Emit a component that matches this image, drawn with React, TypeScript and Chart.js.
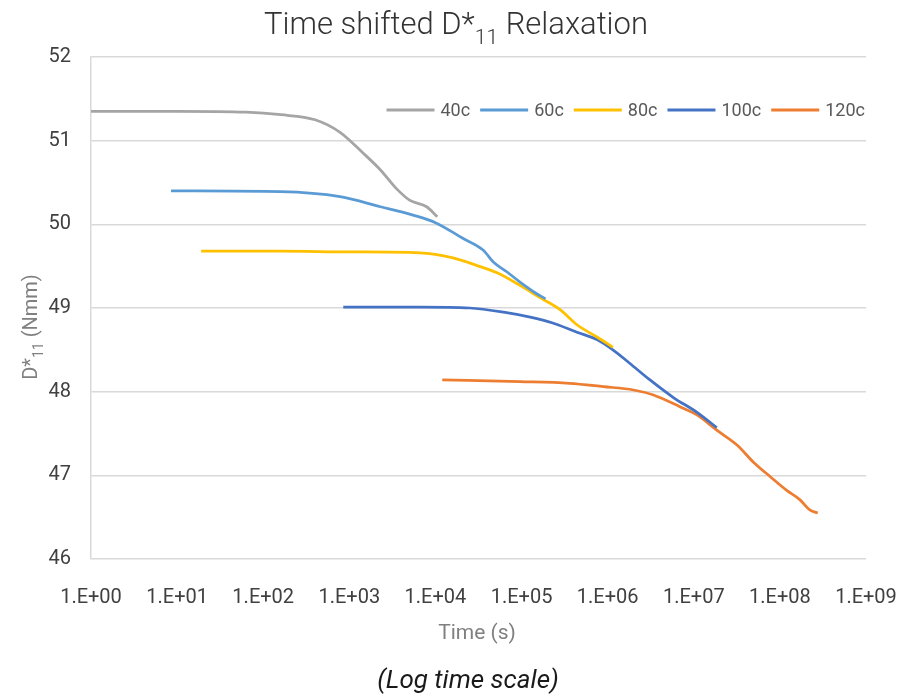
import React, { useEffect, useRef } from "react";
import { Chart, registerables } from "chart.js";

Chart.register(...registerables);

const FONT = "Roboto, 'Liberation Sans', sans-serif";

// Series names and colours
const SERIES_LABELS = ["40c", "60c", "80c", "100c", "120c"];
const SERIES_COLORS = ["#A5A5A5", "#5B9BD5", "#FFC000", "#4472C4", "#ED7D31"];

// Shifted time (s) and D*11 (Nmm) for each temperature
const time40 = [1, 1e1, 6.3e1, 1.6e2, 4e2, 7.8e2, 1.45e3, 2.3e3, 3.5e3, 5e3, 7.9e3, 1.05e4];
const d40 = [51.35, 51.35, 51.34, 51.31, 51.25, 51.1, 50.85, 50.65, 50.43, 50.29, 50.21, 50.09];

const time60 = [8.5, 1.6e2, 7.8e2, 2.3e3, 5.5e3, 1.0e4, 2.1e4, 3.6e4, 4.7e4, 6.8e4, 9.6e4, 1.5e5, 1.9e5];
const d60 = [50.4, 50.39, 50.33, 50.21, 50.11, 50.02, 49.83, 49.69, 49.55, 49.43, 49.31, 49.17, 49.11];

const time80 = [1.9e1, 1.6e2, 1e3, 6.6e3, 1.6e4, 3.0e4, 5.2e4, 9.6e4, 1.6e5, 2.8e5, 4.4e5, 7.6e5, 1.15e6];
const d80 = [49.68, 49.68, 49.67, 49.66, 49.6, 49.51, 49.42, 49.27, 49.13, 48.98, 48.8, 48.65, 48.53];

const time100 = [8.5e2, 6.6e3, 2.5e4, 6.2e4, 1.26e5, 2.3e5, 4.4e5, 7.6e5, 1.15e6, 1.8e6, 3.1e6, 5.8e6, 1.1e7, 1.85e7];
const d100 = [49.01, 49.01, 49.0, 48.95, 48.89, 48.82, 48.71, 48.62, 48.5, 48.34, 48.14, 47.93, 47.75, 47.57];

const time120 = [1.2e4, 9.6e4, 3.6e5, 8.9e5, 2e6, 3.4e6, 6.9e6, 1.1e7, 1.85e7, 3.2e7, 4.9e7, 7.8e7, 1.2e8, 1.7e8, 2.2e8, 2.75e8];
const d120 = [48.14, 48.12, 48.1, 48.06, 48.02, 47.96, 47.82, 47.72, 47.54, 47.36, 47.16, 46.98, 46.82, 46.71, 46.59, 46.55];

const SERIES_TIMES = [time40, time60, time80, time100, time120];
const SERIES_VALUES = [d40, d60, d80, d100, d120];

// Axis ticks
const X_TICKS = [1e0, 1e1, 1e2, 1e3, 1e4, 1e5, 1e6, 1e7, 1e8, 1e9];
const Y_MIN = 46;
const Y_MAX = 52;

const TITLE_MAIN = "Time shifted D*";
const TITLE_SUB = "11";
const TITLE_REST = " Relaxation";
const Y_TITLE_MAIN = "D*";
const Y_TITLE_SUB = "11";
const Y_TITLE_REST = " (Nmm)";
const X_TITLE = "Time (s)";
const NOTE = "(Log time scale)";

function expLabel(v: number): string {
  const e = Math.round(Math.log10(v));
  return "1.E+" + String(e).padStart(2, "0");
}

// Draws text runs with a subscript in the middle, centred on cx
function drawSubText(
  ctx: CanvasRenderingContext2D,
  cx: number,
  baseline: number,
  main: string,
  sub: string,
  rest: string,
  size: number,
  subSize: number,
  subDrop: number,
  weight: string
) {
  ctx.font = `${weight} ${size}px ${FONT}`;
  const w1 = ctx.measureText(main).width;
  const w3 = ctx.measureText(rest).width;
  ctx.font = `${weight} ${subSize}px ${FONT}`;
  const w2 = ctx.measureText(sub).width;
  let x = cx - (w1 + w2 + w3) / 2;
  ctx.textAlign = "left";
  ctx.textBaseline = "alphabetic";
  ctx.font = `${weight} ${size}px ${FONT}`;
  ctx.fillText(main, x, baseline);
  x += w1;
  ctx.font = `${weight} ${subSize}px ${FONT}`;
  ctx.fillText(sub, x, baseline + subDrop);
  x += w2;
  ctx.font = `${weight} ${size}px ${FONT}`;
  ctx.fillText(rest, x, baseline);
}

const decorations = {
  id: "decorations",
  afterDraw(chart: any) {
    const ctx: CanvasRenderingContext2D = chart.ctx;
    const area = chart.chartArea;
    ctx.save();

    // Title
    ctx.fillStyle = "#333333";
    drawSubText(ctx, 456, 34, TITLE_MAIN, TITLE_SUB, TITLE_REST, 31, 21, 10, "300");

    // Legend, right-aligned inside the plot area
    const lineLen = 48;
    const gapLineText = 6;
    const gapItems = 10;
    const legendFont = `normal 18px ${FONT}`;
    ctx.font = legendFont;
    const datasets = chart.data.datasets;
    const widths = datasets.map((d: any) => ctx.measureText(d.label).width);
    let total = 0;
    widths.forEach((w: number, i: number) => {
      total += lineLen + gapLineText + w + (i < widths.length - 1 ? gapItems : 0);
    });
    let lx = area.right - 1 - total;
    const ly = 110;
    datasets.forEach((d: any, i: number) => {
      ctx.strokeStyle = d.borderColor;
      ctx.lineWidth = 3;
      ctx.beginPath();
      ctx.moveTo(lx, ly);
      ctx.lineTo(lx + lineLen, ly);
      ctx.stroke();
      lx += lineLen + gapLineText;
      ctx.fillStyle = "#595959";
      ctx.textAlign = "left";
      ctx.textBaseline = "middle";
      ctx.font = legendFont;
      ctx.fillText(d.label, lx, ly + 1);
      lx += widths[i] + gapItems;
    });

    // Y axis title (rotated)
    ctx.save();
    ctx.translate(37, 327);
    ctx.rotate(-Math.PI / 2);
    ctx.fillStyle = "#808080";
    drawSubText(ctx, 0, 0, Y_TITLE_MAIN, Y_TITLE_SUB, Y_TITLE_REST, 20, 14, 6, "normal");
    ctx.restore();

    // X axis title
    ctx.fillStyle = "#808080";
    ctx.font = `normal 21px ${FONT}`;
    ctx.textAlign = "center";
    ctx.textBaseline = "middle";
    ctx.fillText(X_TITLE, 477, 634);

    // Note below the chart
    ctx.fillStyle = "#1a1a1a";
    ctx.font = `italic 26px ${FONT}`;
    ctx.fillText(NOTE, 468, 681);

    ctx.restore();
  },
};

export default function App() {
  const canvasRef = useRef<HTMLCanvasElement | null>(null);

  useEffect(() => {
    const canvas = canvasRef.current;
    if (!canvas) return;

    const datasets = SERIES_LABELS.map((label, i) => ({
      label,
      data: SERIES_TIMES[i].map((t, j) => ({ x: t, y: SERIES_VALUES[i][j] })),
      borderColor: SERIES_COLORS[i],
      backgroundColor: SERIES_COLORS[i],
      borderWidth: 2.75,
      pointRadius: 0,
      cubicInterpolationMode: "monotone" as const,
      fill: false,
    }));

    const chart = new Chart(canvas, {
      type: "line",
      data: { datasets },
      options: {
        animation: false,
        responsive: false,
        devicePixelRatio: 1,
        layout: { padding: { top: 57, right: 33, bottom: 77, left: 0 } },
        plugins: {
          legend: { display: false },
          title: { display: false },
          tooltip: { enabled: false },
        },
        scales: {
          x: {
            type: "logarithmic",
            min: X_TICKS[0],
            max: X_TICKS[X_TICKS.length - 1],
            afterBuildTicks: (scale: any) => {
              scale.ticks = X_TICKS.map((v) => ({ value: v }));
            },
            afterFit: (scale: any) => {
              scale.height = 60;
              scale.paddingLeft = 0;
              scale.paddingRight = 0;
            },
            grid: { display: false, drawTicks: false },
            border: { display: false },
            ticks: {
              autoSkip: false,
              maxRotation: 0,
              padding: 27,
              color: "#404040",
              font: { family: FONT, size: 20 },
              callback: (v: any) => expLabel(Number(v)),
            },
          },
          y: {
            type: "linear",
            min: Y_MIN,
            max: Y_MAX,
            afterFit: (scale: any) => {
              scale.width = 91;
              scale.paddingTop = 0;
              scale.paddingBottom = 0;
            },
            grid: { color: "#D9D9D9", lineWidth: 1.5, drawTicks: false },
            border: { display: true, color: "#D9D9D9", width: 1.5 },
            ticks: {
              stepSize: 1,
              padding: 20,
              color: "#404040",
              font: { family: FONT, size: 20 },
            },
          },
        },
      },
      plugins: [decorations],
    });

    return () => chart.destroy();
  }, []);

  return (
    <div style={{ position: "absolute", left: 0, top: 0, width: 899, height: 696, background: "#fff" }}>
      <canvas ref={canvasRef} width={899} height={696} />
    </div>
  );
}
